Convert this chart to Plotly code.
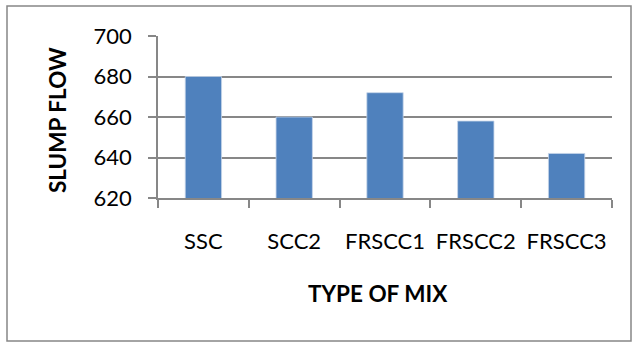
import plotly.graph_objects as go

categories = ["SSC", "SCC2", "FRSCC1", "FRSCC2", "FRSCC3"]
slump_flow = [680, 660, 672, 658, 642]
y_ticks = [620, 640, 660, 680, 700]
x_title = "TYPE OF MIX"
y_title = "SLUMP FLOW"

FONT = "Lato"
GRID = "#878787"

fig = go.Figure(
    go.Bar(
        x=categories,
        y=slump_flow,
        marker=dict(color="#4F81BD", line=dict(color="#C5D4E8", width=0.8)),
        width=0.4,
    )
)

L, R, T, B = 158, 23, 36, 145
W, H = 635, 343
pw = W - L - R
ph = H - T - B

def px_x(p):
    return (p - L) / pw

def px_y(p):
    return (H - B - p) / ph

fig.update_layout(
    width=W,
    height=H,
    margin=dict(l=L, r=R, t=T, b=B),
    paper_bgcolor="white",
    plot_bgcolor="white",
    showlegend=False,
    font=dict(family=FONT, color="black"),
    xaxis=dict(
        type="category",
        tickson="boundaries",
        ticks="outside",
        ticklen=8,
        tickcolor=GRID,
        tickwidth=1.5,
        showline=True,
        linecolor=GRID,
        linewidth=1.5,
        showgrid=False,
        tickfont=dict(size=22, family=FONT),
        ticklabelstandoff=23,
    ),
    yaxis=dict(
        range=[620, 700],
        tickvals=y_ticks,
        ticks="outside",
        ticklen=8,
        tickcolor=GRID,
        tickwidth=1.5,
        showline=True,
        linecolor=GRID,
        linewidth=1.5,
        showgrid=True,
        gridcolor=GRID,
        gridwidth=1.5,
        zeroline=False,
        tickfont=dict(size=22, family=FONT),
        ticklabelstandoff=12,
    ),
    annotations=[
        dict(
            text="<b>" + x_title + "</b>",
            xref="paper", yref="paper",
            x=px_x(378), y=px_y(293),
            xanchor="center", yanchor="middle",
            showarrow=False,
            font=dict(size=22.5, family=FONT, color="black"),
        ),
        dict(
            text="<b>" + y_title + "</b>",
            xref="paper", yref="paper",
            x=px_x(57), y=px_y(120),
            xanchor="center", yanchor="middle",
            textangle=-90,
            showarrow=False,
            font=dict(size=22.5, family=FONT, color="black"),
        ),
    ],
    shapes=[
        dict(
            type="rect",
            xref="paper",
            yref="paper",
            x0=px_x(7),
            x1=px_x(631),
            y0=px_y(341),
            y1=px_y(6),
            line=dict(color=GRID, width=1.5),
            fillcolor="rgba(0,0,0,0)",
            layer="below",
        )
    ],
)

fig.write_html("out.html")
